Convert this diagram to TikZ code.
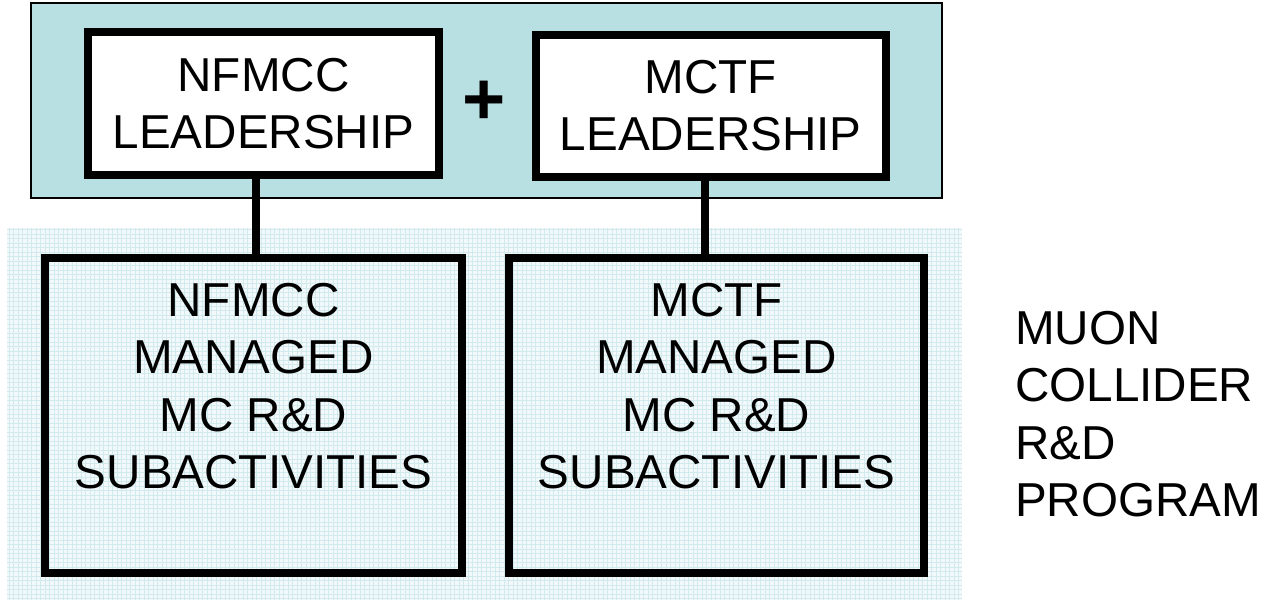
\documentclass[tikz,border=0pt]{standalone}
\usepackage{fontspec}
\setmainfont{Liberation Sans}
\definecolor{panelteal}{RGB}{184,223,225}
\definecolor{gridbase}{RGB}{243,249,250}
\definecolor{gridline}{RGB}{208,234,238}
\tikzset{
  panel/.style={draw, line width=1.5pt, fill=panelteal, inner sep=0pt},
  leadbox/.style={draw, line width=8pt, fill=white, inner sep=0pt, align=center,
    font=\fontsize{47.6}{57.5}\selectfont},
  subbox/.style={draw, line width=8pt, inner sep=0pt},
  lbl/.style={inner sep=0pt, align=center, font=\fontsize{47.6}{57.5}\selectfont},
  conn/.style={line width=8pt}
}
\begin{document}
\begin{tikzpicture}[x=1pt, y=-1pt]
      \useasboundingbox (0,0) rectangle (1266,600);
      % lower patterned area
      \fill[gridbase] (7,228) rectangle (962,600);
      \draw[gridline, line width=0.5pt, step=4.5pt] (7,228) grid (962,600);
      % leadership panel
      \node[panel, minimum width=911, minimum height=195] (lead) at (486.5,100.5) {};
      \node[leadbox, minimum width=351, minimum height=143] (nfl) at (263.5,103.5)
        {NFMCC\\LEADERSHIP};
      \node[leadbox, minimum width=350.5, minimum height=142.5] (mcl) at (710.75,105.75)
        {MCTF\\LEADERSHIP};
      \node[inner sep=0pt, font=\fontsize{74}{80}\bfseries] (plus) at (484,103) {+};
      % managed subactivities
      \node[subbox, minimum width=417, minimum height=315] (nfs) at (253.5,415) {};
      \node[subbox, minimum width=415, minimum height=315] (mcs) at (716.5,415) {};
      \node[lbl, anchor=north] (nfstxt) at (253.5,283)
        {NFMCC\\MANAGED\\MC R\&D\\SUBACTIVITIES};
      \node[lbl, anchor=north] (mcstxt) at (716.5,283)
        {MCTF\\MANAGED\\MC R\&D\\SUBACTIVITIES};
      \node[lbl, align=left, anchor=north west] (prog) at (1015,311)
        {MUON\\COLLIDER\\R\&D\\PROGRAM};
      \begin{scope}[conn]
        \draw ([xshift=-7.5]nfl.south) -- ([xshift=2.5]nfs.north);
        \draw ([xshift=-5.75]mcl.south) -- ([xshift=-11.5]mcs.north);
      \end{scope}
    \end{tikzpicture}
\end{document}
